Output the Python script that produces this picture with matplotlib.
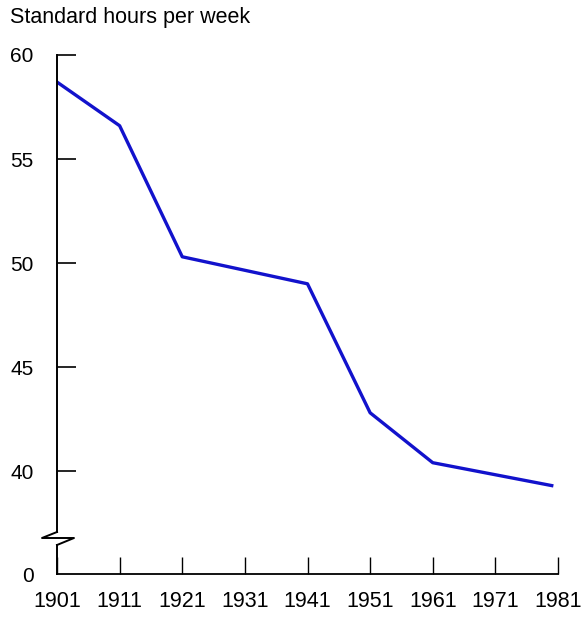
import matplotlib.pyplot as plt

# standard hours per week
years = [1901, 1911, 1921, 1941, 1951, 1961, 1980]
hours = [58.7, 56.6, 50.3, 49.0, 42.8, 40.4, 39.3]

x_ticks = [1901, 1911, 1921, 1931, 1941, 1951, 1961, 1971, 1981]
y_ticks = [40, 45, 50, 55, 60]
y_zero_pos = 35.05  # where the "0" sits below the axis break

plt.rcParams['font.family'] = ['Liberation Sans', 'DejaVu Sans']

fig = plt.figure(figsize=(5.86, 6.18), dpi=100)
ax = fig.add_axes([57 / 586, 1 - 574 / 618, (558 - 57) / 586, (574 - 55) / 618])

ax.plot(years, hours, color='#1212cc', linewidth=2.4, solid_joinstyle='round')

ax.set_xlim(1901, 1981)
ax.set_ylim(y_zero_pos, 60)

ax.set_xticks(x_ticks)
ax.set_xticklabels([str(y) for y in x_ticks])
ax.set_yticks([y_zero_pos] + y_ticks)
ax.set_yticklabels(['0'] + [str(v) for v in y_ticks])

ax.tick_params(axis='y', direction='in', length=14, width=1.2, pad=17, labelsize=15)
ax.tick_params(axis='x', direction='in', length=12, width=1.0, pad=12, labelsize=15.5)
# no tick mark at the "0" position
ax.yaxis.get_major_ticks()[0].tick1line.set_visible(False)

for s in ['top', 'right', 'left']:
    ax.spines[s].set_visible(False)
ax.spines['bottom'].set_linewidth(1.3)

# left spine with a break near the bottom
h = 574 - 55
kw = dict(transform=ax.transAxes, color='black', linewidth=1.4, clip_on=False)
ax.plot([0, 0], [(574 - 532) / h, 1], **kw)
ax.plot([0, 0], [0, (574 - 545) / h], **kw)
zx = [0, -15 / 501, 17 / 501, 0]
zy = [(574 - 532) / h, (574 - 538) / h, (574 - 538) / h, (574 - 545) / h]
ax.plot(zx, zy, **kw)

fig.text(10 / 586, 1 - 18 / 618, 'Standard hours per week', fontsize=15.5,
         va='center', ha='left')

fig.savefig('out.png', dpi=100)
